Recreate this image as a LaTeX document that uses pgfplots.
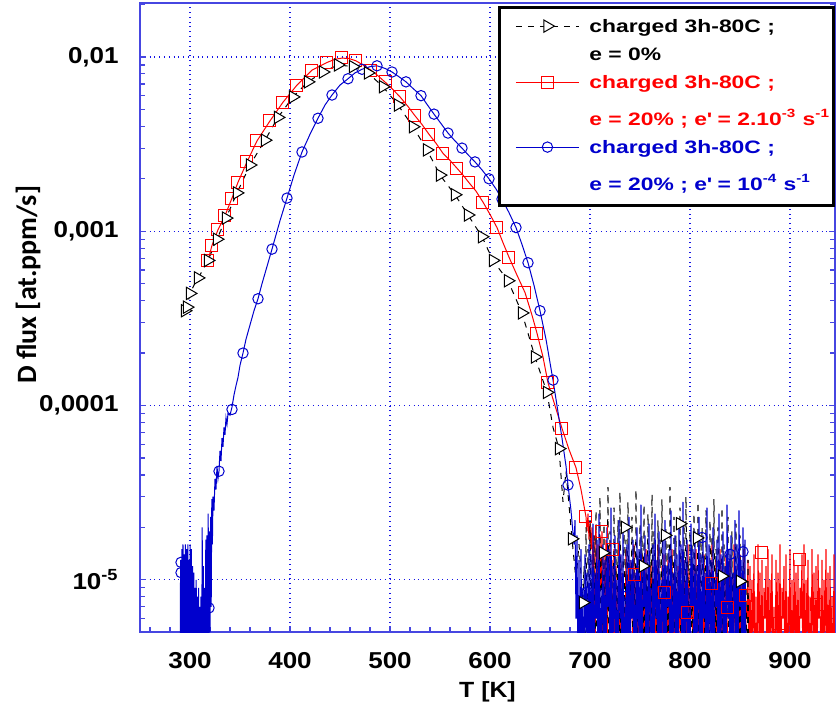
\documentclass[border=0pt]{standalone}
\usepackage{fontspec}
\setmainfont{Liberation Sans}
\newfontfamily\tickfont{Liberation Sans}[FakeStretch=1.13]
\newfontfamily\legfont{Liberation Sans}[FakeStretch=1.27]
\newfontfamily\labfont{Carlito}
\usepackage{pgfplots}
\pgfplotsset{compat=1.18}
\definecolor{axblue}{RGB}{70,70,225}
\definecolor{gridblue}{RGB}{20,20,230}
\definecolor{serblue}{RGB}{0,0,205}
\definecolor{serred}{RGB}{255,0,0}
\newcommand\sA{\rule{0pt}{7.5pt}}
\newcommand\sB{\rule{0pt}{12pt}}
\begin{document}
\begin{tikzpicture}
\begin{axis}[name=ax, scale only axis, width=347.5pt, height=314.5pt,
  ymode=log, xmin=250, xmax=945, ymin=5.02e-6, ymax=2.04e-2,
  axis line style={axblue, line width=0.75pt},
  every tick/.style={axblue, line width=0.6pt},
  major tick length=3pt, minor tick length=2.5pt,
  xtick={300,400,...,900}, xticklabels={300,400,500,600,700,800,900},
  minor xtick={260,280,...,940},
  xtick pos=left,
  ytick={1e-5,1e-4,1e-3,1e-2},
  yticklabels={{10\textsuperscript{-5}},{0,0001},{0,001},{0,01}},
  minor ytick={6e-6,7e-6,8e-6,9e-6,2e-5,3e-5,4e-5,5e-5,6e-5,7e-5,8e-5,9e-5,2e-4,3e-4,4e-4,5e-4,6e-4,7e-4,8e-4,9e-4,2e-3,3e-3,4e-3,5e-3,6e-3,7e-3,8e-3,9e-3,2e-2},
  grid=major, major grid style={gridblue, dotted, line width=0.6pt},
  tick label style={font=\tickfont\bfseries\fontsize{11.5}{13}\selectfont, text=black},
  yticklabel style={inner sep=0pt, xshift=-10.5pt},
  xticklabel style={inner sep=0pt, yshift=-10pt},
  xlabel={T [K]},
  xlabel style={font=\tickfont\bfseries\fontsize{11}{13}\selectfont, at={(axis description cs:0.5,0)}, anchor=north, yshift=-24.5pt, inner sep=0pt},
  ylabel={D flux [at.ppm/s]},
  ylabel style={font=\labfont\bfseries\fontsize{14}{16}\selectfont, at={(axis description cs:-0.161,0.552)}, anchor=center},
  legend image code/.code={\path (0pt,0pt) (42.5pt,0pt); \draw[mark repeat=2,mark phase=2] plot coordinates {(7pt,0.7pt)(22.75pt,0.7pt)(38.5pt,0.7pt)};},
  legend style={at={(rel axis cs:1,1)}, anchor=north east, xshift=0.25pt, yshift=-1.5pt, draw=black, line width=1.5pt, fill=white,
    font=\legfont\bfseries\fontsize{9}{11}\selectfont,
    cells={anchor=west},
    nodes={text depth=2.5pt, inner ysep=2pt, inner xsep=1pt},
    inner xsep=1pt, inner ysep=3pt, row sep=0pt, column sep=0pt},
]
\addlegendimage{black, line width=0.5pt, dash pattern=on 3pt off 3pt, mark=triangle*, mark size=3.5pt, mark options={solid, fill=white, rotate=-90}}
\addlegendentry[text=black]{\sA charged 3h-80C ;}
\addlegendimage{empty legend}
\addlegendentry[text=black]{\sA e = 0\%}
\addlegendimage{serred, line width=0.5pt, mark=square, mark size=3pt}
\addlegendentry[text=serred]{\sA charged 3h-80C ;}
\addlegendimage{empty legend}
\addlegendentry[text=serred]{\sB e = 20\% ; e\textquotesingle{} = 2.10\textsuperscript{-3} s\textsuperscript{-1}}
\addlegendimage{serblue, line width=0.5pt, mark=o, mark size=2.6pt}
\addlegendentry[text=serblue]{\sA charged 3h-80C ;}
\addlegendimage{empty legend}
\addlegendentry[text=serblue]{\sB e = 20\% ; e\textquotesingle{} = 10\textsuperscript{-4} s\textsuperscript{-1}}

% red line
\addplot[serred, line width=0.5pt, forget plot] coordinates {
(318,6.8e-4)(322,8.3e-4)(328,1.02e-3)(335,1.23e-3)(342,1.55e-3)(348,1.91e-3)(357,2.5e-3)(367,3.3e-3)(380,4.3e-3)(393,5.5e-3)(407,6.9e-3)(422,8.4e-3)(437,9.3e-3)(445,9.7e-3)(452,9.85e-3)(459,9.8e-3)(466,9.5e-3)(473,9.0e-3)(481,8.4e-3)(488,7.8e-3)(496,7.1e-3)(503,6.5e-3)(510,5.9e-3)(518,5.2e-3)(525,4.6e-3)(532,4.1e-3)(539,3.6e-3)(546,3.2e-3)(553,2.8e-3)(560,2.55e-3)(567,2.3e-3)(573,2.1e-3)(579,1.9e-3)(586,1.7e-3)(593,1.47e-3)(600,1.25e-3)(607,1.05e-3)(613,8.6e-4)(619,7.1e-4)(627,5.6e-4)(635,4.45e-4)(642,3.3e-4)(647,2.6e-4)(653,1.9e-4)(658,1.35e-4)(665,1.0e-4)(672,7.4e-5)(679,5.6e-5)(686,4.4e-5)(691,3.3e-5)(696,2.3e-5)
(697,1.9e-5)(698,2.4e-5)(699,1.7e-5)(700,2.1e-5)(701,1.5e-5)(702,2.0e-5)(703,8e-6)(704,1.8e-5)(705,2e-6)(706,1.9e-5)(707,6e-6)(708,1.6e-5)(709,2e-6)(710,1.8e-5)(711,9e-6)(712,1.9e-5)(713,2e-6)(714,1.5e-5)(715,5e-6)(716,1.7e-5)(717,2e-6)(718,1.4e-5)(719,7e-6)(720,1.6e-5)(721,2e-6)(722,1.3e-5)(723,2e-6)(724,1.5e-5)(725,2e-6)
(726,1.2e-5)(727,2e-6)(728,9e-6)(729,5e-6)(730,1.4e-5)(731,2e-6)(732,1.1e-5)(733,2e-6)(734,7e-6)(735,4e-6)(736,1.5e-5)(737,2e-6)(738,1.0e-5)(739,2e-6)(740,1.3e-5)(741,6e-6)(742,8e-6)(743,2e-6)(744,1.6e-5)(745,2e-6)(746,1.1e-5)(747,2e-6)(748,1.2e-5)(749,5e-6)(750,9e-6)(751,2e-6)(752,1.4e-5)(753,2e-6)(754,1.0e-5)(755,4e-6)(756,1.5e-5)(757,2e-6)(758,7e-6)(759,2e-6)(760,1.2e-5)(761,6e-6)(762,1.3e-5)(763,2e-6)(764,9e-6)(765,2e-6)
(766,1.1e-5)(767,2e-6)(768,1.6e-5)(769,5e-6)(770,8e-6)(771,2e-6)(772,1.2e-5)(773,2e-6)(774,1.4e-5)(775,4e-6)(776,1.0e-5)(777,2e-6)(778,1.3e-5)(779,2e-6)(780,7e-6)(781,6e-6)(782,1.5e-5)(783,2e-6)(784,1.1e-5)(785,2e-6)(786,9e-6)(787,2e-6)(788,1.2e-5)(789,5e-6)(790,1.4e-5)(791,2e-6)(792,8e-6)(793,2e-6)(794,1.3e-5)(795,4e-6)(796,1.0e-5)(797,2e-6)(798,1.6e-5)(799,2e-6)(800,1.1e-5)(801,6e-6)(802,9e-6)(803,2e-6)(804,1.2e-5)(805,2e-6)
(806,1.5e-5)(807,2e-6)(808,1.0e-5)(809,5e-6)(810,1.3e-5)(811,2e-6)(812,8e-6)(813,2e-6)(814,1.4e-5)(815,4e-6)(816,1.1e-5)(817,2e-6)(818,1.2e-5)(819,2e-6)(820,7e-6)(821,6e-6)(822,1.6e-5)(823,2e-6)(824,1.0e-5)(825,2e-6)(826,1.3e-5)(827,5e-6)(828,9e-6)(829,2e-6)(830,1.5e-5)(831,2e-6)(832,1.2e-5)(833,4e-6)(834,1.1e-5)(835,2e-6)(836,1.4e-5)(837,2e-6)(838,8e-6)(839,6e-6)(840,1.3e-5)(841,2e-6)(842,1.0e-5)(843,2e-6)(844,1.6e-5)(845,5e-6)
(846,1.2e-5)(847,2e-6)(848,9e-6)(849,2e-6)(850,1.4e-5)(851,4e-6)(852,1.1e-5)(853,2e-6)(854,1.5e-5)(855,2e-6)(856,7e-6)(857,6e-6)(858,1.3e-5)(859,2e-6)(860,1.2e-5)(861,2e-6)(862,1.0e-5)(863,5e-6)(864,1.4e-5)(865,2e-6)(866,8e-6)(867,2e-6)(868,1.6e-5)(869,4e-6)(870,1.1e-5)(871,2e-6)(872,1.3e-5)(873,2e-6)(874,9e-6)(875,6e-6)(876,1.2e-5)(877,2e-6)(878,1.5e-5)(879,2e-6)(880,1.0e-5)(881,5e-6)(882,1.4e-5)(883,2e-6)(884,7e-6)(885,2e-6)
(886,1.3e-5)(887,4e-6)(888,1.1e-5)(889,2e-6)(890,1.6e-5)(891,2e-6)(892,9e-6)(893,6e-6)(894,1.2e-5)(895,2e-6)(896,1.4e-5)(897,2e-6)(898,8e-6)(899,5e-6)(900,1.5e-5)(901,2e-6)(902,1.0e-5)(903,2e-6)(904,1.3e-5)(905,4e-6)(906,1.1e-5)(907,2e-6)(908,1.2e-5)(909,2e-6)(910,9e-6)(911,6e-6)(912,1.4e-5)(913,2e-6)(914,1.6e-5)(915,2e-6)(916,1.0e-5)(917,5e-6)(918,1.3e-5)(919,2e-6)(920,8e-6)(921,2e-6)(922,1.5e-5)(923,4e-6)(924,1.1e-5)(925,2e-6)
(926,1.2e-5)(927,2e-6)(928,1.4e-5)(929,6e-6)(930,9e-6)(931,2e-6)(932,1.3e-5)(933,2e-6)(934,1.0e-5)(935,5e-6)(936,1.5e-5)(937,2e-6)(938,1.1e-5)(939,2e-6)(940,1.2e-5)(941,4e-6)(942,8e-6)(943,2e-6)(944,1.4e-5)(945,2e-6)(946,1.1e-5)
};

% black line
\addplot[black, line width=0.5pt, dash pattern=on 3pt off 3pt, forget plot] coordinates {
(295,3.5e-4)(297,3.67e-4)(300,4.4e-4)(304,4.9e-4)(308,5.4e-4)(313,6.0e-4)(318,6.8e-4)(327,9.0e-4)(336,1.19e-3)(347,1.66e-3)(360,2.4e-3)(375,3.33e-3)(388,4.5e-3)(403,5.9e-3)(418,7.2e-3)(433,8.2e-3)(448,9.0e-3)(463,8.8e-3)(478,8.1e-3)(493,6.75e-3)(508,5.3e-3)(523,3.98e-3)(537,2.93e-3)(550,2.1e-3)(565,1.62e-3)(578,1.24e-3)(592,9.3e-4)(603,6.8e-4)(618,5.2e-4)(632,3.4e-4)(645,1.9e-4)(657,1.19e-4)(663,7.5e-5)(669,5.66e-5)(673,2.8e-5)(676,4.2e-5)(682,1.72e-5)(686,1.0e-5)(689,1.6e-5)(693,7.4e-6)
(694,1.2e-5)(695,4e-6)(696,2.0e-5)(697,3e-6)(698,1.5e-5)(699,2e-6)(700,2.2e-5)(701,5e-6)(702,1.3e-5)(703,2e-6)
(704,1.8e-5)(705,2e-6)(706,2.5e-5)(707,2e-6)(708,1.2e-5)(709,6e-6)(710,3.0e-5)(711,2e-6)(712,1.6e-5)(713,2e-6)(714,2.1e-5)(715,2e-6)(716,1.4e-5)(717,6e-6)(718,3.4e-5)(719,2e-6)(720,1.9e-5)(721,2e-6)(722,1.1e-5)(723,2e-6)(724,2.6e-5)(725,6e-6)(726,1.5e-5)(727,2e-6)(728,2.2e-5)(729,2e-6)(730,3.2e-5)(731,2e-6)(732,1.3e-5)(733,6e-6)(734,2.0e-5)(735,2e-6)(736,1.7e-5)(737,2e-6)(738,2.8e-5)(739,2e-6)(740,1.2e-5)(741,6e-6)(742,2.3e-5)(743,2e-6)
(744,1.6e-5)(745,2e-6)(746,3.3e-5)(747,2e-6)(748,1.4e-5)(749,6e-6)(750,2.1e-5)(751,2e-6)(752,1.8e-5)(753,2e-6)(754,2.7e-5)(755,2e-6)(756,1.1e-5)(757,6e-6)(758,2.4e-5)(759,2e-6)(760,1.5e-5)(761,2e-6)(762,3.1e-5)(763,2e-6)(764,1.9e-5)(765,6e-6)(766,1.3e-5)(767,2e-6)(768,2.2e-5)(769,2e-6)(770,1.7e-5)(771,2e-6)(772,2.9e-5)(773,6e-6)(774,1.2e-5)(775,2e-6)(776,2.0e-5)(777,2e-6)(778,1.6e-5)(779,2e-6)(780,3.4e-5)(781,6e-6)(782,1.4e-5)(783,2e-6)
(784,2.3e-5)(785,2e-6)(786,1.8e-5)(787,2e-6)(788,1.1e-5)(789,6e-6)(790,2.6e-5)(791,2e-6)(792,1.5e-5)(793,2e-6)(794,2.1e-5)(795,2e-6)(796,3.0e-5)(797,6e-6)(798,1.3e-5)(799,2e-6)(800,1.9e-5)(801,2e-6)(802,1.6e-5)(803,2e-6)(804,2.4e-5)(805,6e-6)(806,1.2e-5)(807,2e-6)(808,2.8e-5)(809,2e-6)(810,1.7e-5)(811,2e-6)(812,2.0e-5)(813,6e-6)(814,1.4e-5)(815,2e-6)(816,2.5e-5)(817,2e-6)(818,1.1e-5)(819,2e-6)(820,2.2e-5)(821,6e-6)(822,1.8e-5)(823,2e-6)
(824,2.9e-5)(825,2e-6)(826,1.5e-5)(827,2e-6)(828,2.0e-5)(829,6e-6)(830,1.3e-5)(831,2e-6)(832,2.6e-5)(833,2e-6)(834,1.6e-5)(835,2e-6)(836,1.2e-5)(837,6e-6)(838,2.3e-5)(839,2e-6)(840,1.4e-5)(841,2e-6)(842,1.9e-5)(843,2e-6)(844,1.1e-5)(845,6e-6)(846,2.1e-5)(847,2e-6)(848,1.5e-5)(849,2e-6)(850,1.8e-5)(851,2e-6)(852,1.2e-5)(853,6e-6)(854,1.6e-5)(855,2e-6)(856,1.0e-5)(857,2e-6)(858,1.3e-5)(859,2e-6)
};

% blue line
\addplot[serblue, line width=0.5pt, forget plot] coordinates {
(290,2e-6)(290.6,1.3e-5)(291.2,2e-6)(291.8,1.5e-5)(292.4,3e-6)(293,1.6e-5)(293.6,2e-6)(294.2,1.4e-5)(294.8,4e-6)(295.4,1.6e-5)(296,2e-6)(296.6,1.5e-5)(297.2,3e-6)(297.8,1.6e-5)(298.4,2e-6)(299,1.3e-5)(299.6,3e-6)(300.2,1.6e-5)(300.8,2e-6)(301.4,1.5e-5)(302,3e-6)(302.6,1.2e-5)(303.2,2e-6)(303.8,1.1e-5)(304.4,3e-6)(305,9e-6)(305.6,2e-6)(306.2,1e-5)(306.8,3e-6)(307.4,8e-6)(308,4e-6)(308.6,9e-6)(309.2,2e-6)(309.8,7e-6)(310.4,3e-6)(311,8e-6)(311.6,2e-6)(312.2,2e-5)(312.8,3e-6)(313.4,1.2e-5)(314,2e-6)(314.6,9e-6)(315.2,3e-6)(315.8,1.7e-5)(316.4,2e-6)(317,1.8e-5)(317.6,4e-6)(318.2,2.4e-5)(318.8,3e-6)(319.4,1.9e-5)(320,5e-6)(320.6,2.3e-5)(321.2,7e-6)(321.8,2.9e-5)(322.4,1.6e-5)(323,3e-5)(324,2.5e-5)(325,3.8e-5)(326,3.3e-5)(327,4.5e-5)(328,3.8e-5)(329,4.2e-5)(330,5.5e-5)(331,4.8e-5)(332,6.5e-5)(333,5.8e-5)(334,7.5e-5)(335,6.8e-5)(336,8.5e-5)(337,7.8e-5)(338,9e-5)(340,8.8e-5)(342,9.8e-5)(344,1.15e-4)(346,1.3e-4)(348,1.45e-4)(350,1.7e-4)(353,2.0e-4)(356,2.4e-4)(360,2.9e-4)(364,3.5e-4)(368,4.1e-4)(372,5.0e-4)(376,6.0e-4)(382,7.9e-4)(390,1.15e-3)(397,1.55e-3)(404,2.1e-3)(412,2.85e-3)(420,3.6e-3)(428,4.45e-3)(435,5.3e-3)(442,6.05e-3)(450,6.9e-3)(458,7.5e-3)(465,8.1e-3)(472,8.5e-3)(480,8.8e-3)(487,8.9e-3)(495,8.6e-3)(502,8.2e-3)(509,7.7e-3)(516,7.2e-3)(523,6.6e-3)(531,6.0e-3)(537,5.35e-3)(544,4.7e-3)(551,4.15e-3)(558,3.66e-3)(565,3.3e-3)(572,3.0e-3)(578,2.75e-3)(585,2.5e-3)(592,2.25e-3)(599,2.0e-3)(606,1.75e-3)(612,1.53e-3)(619,1.28e-3)(626,1.05e-3)(632,8.4e-4)(638,6.6e-4)(644,4.9e-4)(650,3.5e-4)(656,2.4e-4)(663,1.4e-4)(667,1.0e-4)(672,6.5e-5)(676,4.5e-5)(678,3.5e-5)(681,2.5e-5)(684,1.6e-5)
(685,2.2e-5)(686,6e-6)(687,1.8e-5)(688,2e-6)(689,1.3e-5)(690,2e-6)(691,1.5e-5)(692,3e-6)(693,9e-6)(694,2e-6)(695,1.4e-5)(696,5e-6)(697,1.1e-5)(698,2e-6)(699,1.6e-5)(700,2e-6)
(701,1.4e-5)(702,2e-6)(703,2.1e-5)(704,2e-6)(705,1.1e-5)(706,6e-6)(707,1.7e-5)(708,2e-6)(709,2.4e-5)(710,2e-6)(711,9e-6)(712,4e-6)(713,1.6e-5)(714,2e-6)(715,1.3e-5)(716,2e-6)(717,2.0e-5)(718,7e-6)(719,1.5e-5)(720,2e-6)(721,2.6e-5)(722,2e-6)(723,1.2e-5)(724,5e-6)(725,1.8e-5)(726,2e-6)(727,1.0e-5)(728,2e-6)(729,2.2e-5)(730,6e-6)(731,1.4e-5)(732,2e-6)(733,1.9e-5)(734,2e-6)(735,8e-6)(736,3e-6)(737,1.6e-5)(738,2e-6)(739,2.3e-5)(740,2e-6)
(741,1.3e-5)(742,6e-6)(743,1.7e-5)(744,2e-6)(745,1.1e-5)(746,2e-6)(747,2.0e-5)(748,4e-6)(749,1.5e-5)(750,2e-6)(751,2.7e-5)(752,2e-6)(753,1.2e-5)(754,7e-6)(755,1.8e-5)(756,2e-6)(757,1.4e-5)(758,2e-6)(759,2.1e-5)(760,5e-6)(761,9e-6)(762,2e-6)(763,1.6e-5)(764,2e-6)(765,2.4e-5)(766,6e-6)(767,1.3e-5)(768,2e-6)(769,1.9e-5)(770,2e-6)(771,1.0e-5)(772,4e-6)(773,1.7e-5)(774,2e-6)(775,2.2e-5)(776,2e-6)(777,1.2e-5)(778,7e-6)(779,1.5e-5)(780,2e-6)
(781,2.5e-5)(782,2e-6)(783,1.1e-5)(784,5e-6)(785,1.8e-5)(786,2e-6)(787,1.4e-5)(788,2e-6)(789,2.0e-5)(790,6e-6)(791,1.6e-5)(792,2e-6)(793,2.8e-5)(794,2e-6)(795,1.3e-5)(796,4e-6)(797,1.7e-5)(798,2e-6)(799,9e-6)(800,2e-6)(801,2.1e-5)(802,7e-6)(803,1.5e-5)(804,2e-6)(805,1.9e-5)(806,2e-6)(807,1.2e-5)(808,5e-6)(809,2.3e-5)(810,2e-6)(811,1.4e-5)(812,2e-6)(813,1.8e-5)(814,6e-6)(815,1.1e-5)(816,2e-6)(817,2.6e-5)(818,2e-6)(819,1.6e-5)(820,4e-6)
(821,1.3e-5)(822,2e-6)(823,2.0e-5)(824,2e-6)(825,1.0e-5)(826,7e-6)(827,1.7e-5)(828,2e-6)(829,2.4e-5)(830,2e-6)(831,1.4e-5)(832,5e-6)(833,1.9e-5)(834,2e-6)(835,1.2e-5)(836,2e-6)(837,2.7e-5)(838,6e-6)(839,1.5e-5)(840,2e-6)(841,1.8e-5)(842,2e-6)(843,1.1e-5)(844,4e-6)(845,2.2e-5)(846,2e-6)(847,1.6e-5)(848,2e-6)(849,2.5e-5)(850,7e-6)(851,1.3e-5)(852,2e-6)(853,2.0e-5)(854,2e-6)(855,1.7e-5)(856,2e-6)
};

% red squares
\addplot[serred, only marks, mark=square, mark size=3pt, line width=0.5pt, forget plot] coordinates {
(318,6.8e-4)(322,8.3e-4)(328,1.02e-3)(335,1.23e-3)(342,1.55e-3)(348,1.91e-3)(357,2.5e-3)(367,3.3e-3)(380,4.3e-3)(393,5.5e-3)(407,6.9e-3)(422,8.4e-3)(437,9.3e-3)(452,9.9e-3)(466,9.5e-3)(481,8.4e-3)(496,7.2e-3)(510,5.9e-3)(525,4.6e-3)(539,3.6e-3)(553,2.8e-3)(567,2.3e-3)(579,1.9e-3)(593,1.47e-3)(607,1.05e-3)(619,7.1e-4)(635,4.45e-4)(647,2.6e-4)(658,1.35e-4)(672,7.4e-5)(686,4.4e-5)(696,2.3e-5)(712,1.9e-5)(723,1.5e-5)(745,1.07e-5)(775,8.5e-6)(798,6.5e-6)(822,9.5e-6)(838,6.9e-6)(856,8.1e-6)(872,1.43e-5)(890,5.6e-6)(910,1.3e-5)(927,7.2e-6)
};
% blue circles
\addplot[serblue, only marks, mark=o, mark size=2.6pt, line width=0.5pt, forget plot] coordinates {
(291,1.26e-5)(291,1.1e-5)(319,6.9e-6)(329,4.2e-5)(342,9.5e-5)(353,2.0e-4)(368,4.1e-4)(382,7.9e-4)(397,1.55e-3)(412,2.85e-3)(428,4.45e-3)(442,6.05e-3)(458,7.5e-3)(472,8.5e-3)(487,8.9e-3)(502,8.2e-3)(516,7.2e-3)(531,6.0e-3)(544,4.7e-3)(558,3.66e-3)(572,3.0e-3)(585,2.5e-3)(599,2.0e-3)(612,1.53e-3)(626,1.05e-3)(638,6.6e-4)(650,3.5e-4)(663,1.4e-4)(678,3.5e-5)(697,8.5e-6)(737,8.1e-6)(812,1.75e-5)(840,1.4e-5)(853,1.45e-5)
};
% black triangles
\addplot[black, only marks, mark=triangle*, mark size=3.5pt, mark options={fill=white, rotate=-90}, line width=0.5pt, forget plot] coordinates {
(295,3.5e-4)(297,3.67e-4)(300,4.4e-4)(308,5.4e-4)(318,6.8e-4)(327,9.0e-4)(336,1.19e-3)(347,1.66e-3)(360,2.4e-3)(375,3.33e-3)(388,4.5e-3)(403,5.9e-3)(418,7.2e-3)(433,8.2e-3)(448,9.0e-3)(463,8.8e-3)(478,8.1e-3)(493,6.75e-3)(508,5.3e-3)(523,3.98e-3)(537,2.93e-3)(550,2.1e-3)(565,1.62e-3)(578,1.24e-3)(592,9.3e-4)(603,6.8e-4)(618,5.2e-4)(632,3.4e-4)(645,1.9e-4)(657,1.19e-4)(669,5.66e-5)(682,1.72e-5)(693,7.4e-6)(713,1.43e-5)(735,2e-5)(753,1.2e-5)(775,1.8e-5)(790,2.1e-5)(807,1.74e-5)(832,1.05e-5)(850,9.8e-6)
};
\end{axis}
\pgfresetboundingbox
\path ([shift={(-70pt,-36.5pt)}]ax.south west) rectangle ([shift={(1pt,1.5pt)}]ax.north east);
\end{tikzpicture}
\end{document}
